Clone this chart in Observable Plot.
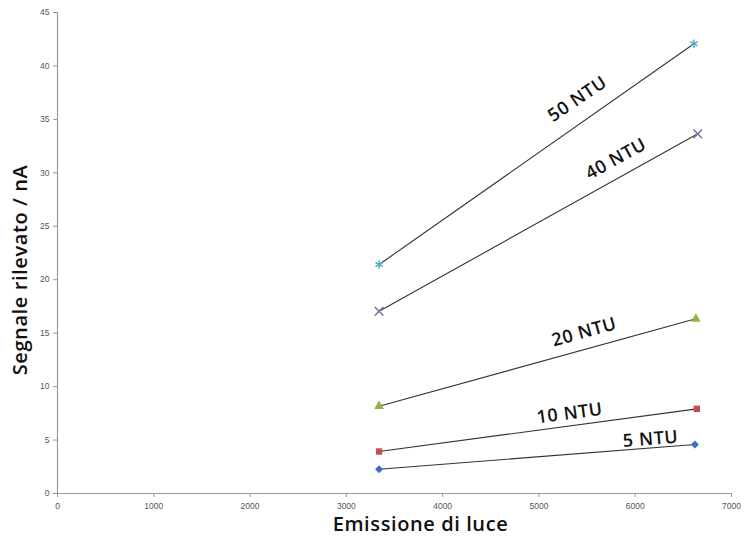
<!DOCTYPE html>
<html>
<head>
<meta charset="utf-8">
<script src="https://cdn.jsdelivr.net/npm/d3@7"></script>
<script src="https://cdn.jsdelivr.net/npm/@observablehq/plot@0.6"></script>
<style>
  html, body { margin: 0; padding: 0; background: #fff; }
  #chart svg { display: block; }
  #chart g[aria-label="text"] text { letter-spacing: 0.6px; }
</style>
</head>
<body>
<div id="chart"></div>
<script>
// Series (NTU levels) and their measurements
const series = ["5 NTU", "10 NTU", "20 NTU", "40 NTU", "50 NTU"];
const xLow  = [3340, 3340, 3340, 3340, 3340];
const xHigh = [6620, 6640, 6630, 6650, 6610];
const yLow  = [2.27, 3.93, 8.17, 17.05, 21.42];
const yHigh = [4.58, 7.92, 16.34, 33.65, 42.07];
const colors  = ["#3A6FC4", "#C0504D", "#8DB543", "#8064A2", "#4BACC6"];
const symbols = ["diamond2", "square", "triangle", "times", "asterisk"];
const filled  = [true, true, true, false, false];

// Label anchors along each line (data coordinates) and their angles
const labelX = [6160, 5320, 5470, 5800, 5400];
const labelY = [5.1, 7.5, 15.1, 31.3, 36.9];
const labelAngle = [-4.5, -7.7, -15.6, -29, -34];

const xTicks = [0, 1000, 2000, 3000, 4000, 5000, 6000, 7000];
const yTicks = [0, 5, 10, 15, 20, 25, 30, 35, 40, 45];

const points = series.flatMap((s, i) => [
  {series: s, x: xLow[i], y: yLow[i], i},
  {series: s, x: xHigh[i], y: yHigh[i], i}
]);
const labels = series.map((s, i) => ({text: s, x: labelX[i], y: labelY[i], a: labelAngle[i]}));

const titleFont = "'Open Sans', Lato, sans-serif";

const chart = Plot.plot({
  width: 755,
  height: 536,
  marginLeft: 57,
  marginRight: 24,
  marginTop: 12,
  marginBottom: 43,
  style: {fontFamily: "'Liberation Sans', Arial, sans-serif", background: "#fff"},
  x: {domain: [0, 7000]},
  y: {domain: [0, 45]},
  marks: [
    Plot.axisX({ticks: xTicks, tickFormat: d => String(d), tickSize: 4, fontSize: 8.5, color: "#555", stroke: "#999", label: null, tickPadding: 5}),
    Plot.axisY({ticks: yTicks, tickFormat: d => String(d), tickSize: 4, fontSize: 8.5, color: "#555", stroke: "#999", label: null, tickPadding: 4}),
    Plot.ruleX([0], {stroke: "#999", strokeWidth: 1.2}),
    Plot.ruleY([0], {stroke: "#999", strokeWidth: 1.2}),
    Plot.line(points, {x: "x", y: "y", z: "series", stroke: "#333", strokeWidth: 1.1}),
    Plot.dot(points.filter(d => filled[d.i]), {x: "x", y: "y", symbol: d => symbols[d.i], fill: d => colors[d.i], r: 3.6}),
    Plot.dot(points.filter(d => !filled[d.i]), {x: "x", y: "y", symbol: d => symbols[d.i], stroke: d => colors[d.i], r: 4, strokeWidth: 1.4}),
    ...labels.map(l => Plot.text([l], {x: "x", y: "y", text: "text", rotate: l.a, fontSize: 18, fontWeight: 600, fill: "#111", fontFamily: titleFont})),
    Plot.text(["Emissione di luce"], {frameAnchor: "bottom", textAnchor: "middle", dx: 26, dy: 37, fontSize: 20, fontWeight: 600, fill: "#111", fontFamily: titleFont}),
    Plot.text(["Segnale rilevato / nA"], {frameAnchor: "left", textAnchor: "middle", dx: -37, dy: 17, rotate: -90, fontSize: 20, fontWeight: 600, fill: "#111", fontFamily: titleFont})
  ],
  symbol: {type: "identity"},
  color: {type: "identity"}
});
document.getElementById("chart").appendChild(chart);
</script>
</body>
</html>
